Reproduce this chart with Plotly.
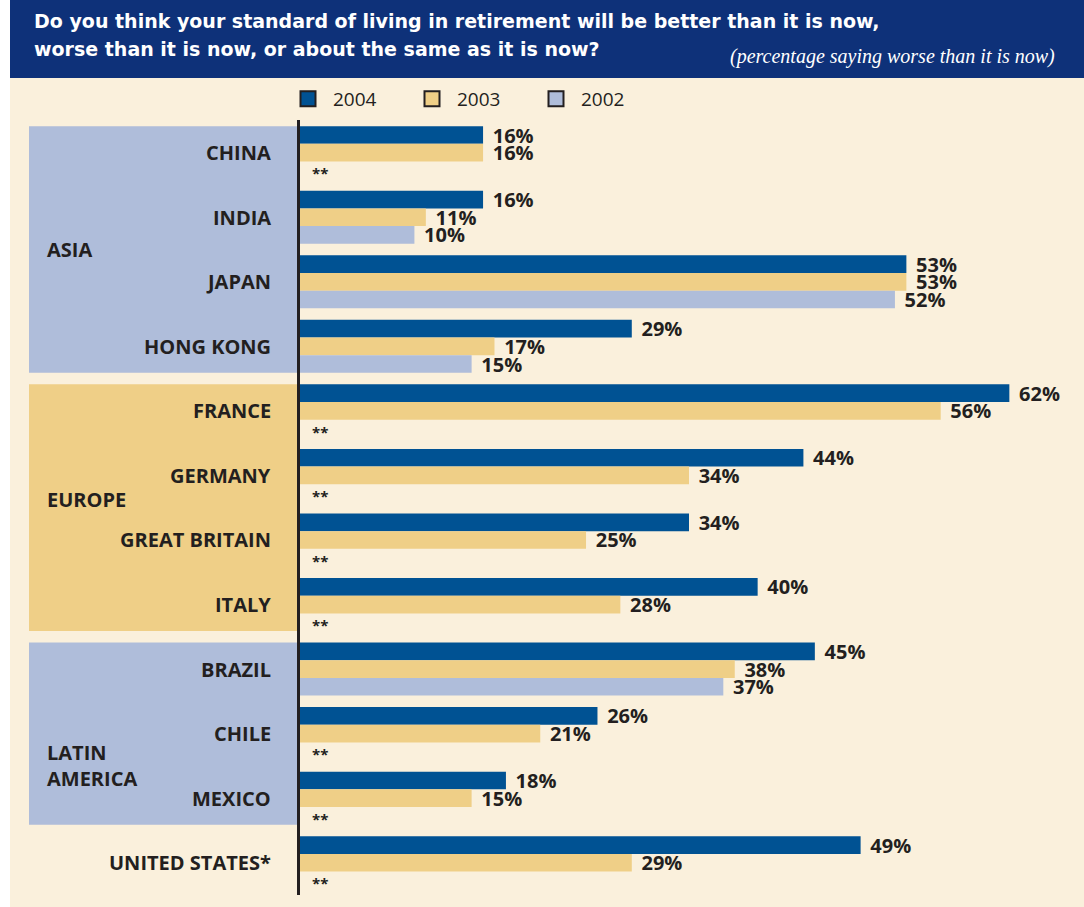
import plotly.graph_objects as go

# ---------------- data ----------------
countries = ["CHINA", "INDIA", "JAPAN", "HONG KONG", "FRANCE", "GERMANY",
             "GREAT BRITAIN", "ITALY", "BRAZIL", "CHILE", "MEXICO", "UNITED STATES*"]
v2004 = [16, 16, 53, 29, 62, 44, 34, 40, 45, 26, 18, 49]
v2003 = [16, 11, 53, 17, 56, 34, 25, 28, 38, 21, 15, 29]
v2002 = [None, 10, 52, 15, None, None, None, None, 37, None, None, None]
years = ["2004", "2003", "2002"]
region_names = ["ASIA", "EUROPE", "LATIN<br>AMERICA"]
region_first = ["CHINA", "FRANCE", "BRAZIL"]
region_last = ["HONG KONG", "ITALY", "MEXICO"]
title_line1 = "Do you think your standard of living in retirement will be better than it is now,"
title_line2 = "worse than it is now, or about the same as it is now?"
subtitle = "(percentage saying worse than it is now)"

# ---------------- style ----------------
W, H = 1084, 907
ML, MR, MT, MB = 300, 6, 120, 12
PW, PH = W - ML - MR, H - MT - MB
NAVY = "#0E3179"
CREAM = "#FAF0DC"
TXT = "#231F20"
colors = ["#005293", "#EFCF87", "#AFBDDA"]
region_fill = ["#AFBDDA", "#EFCF87", "#AFBDDA"]
region_label_y = [1.5, 5.38, 9.5]
BAR_PX = PH / len(countries) * (1 - 0.178) / 3


def px2x(p):
    return (p - ML) / PW


def px2y(p):
    return (H - MB - p) / PH


series = [v2004, v2003, v2002]
fig = go.Figure()
for name, vals, col in zip(years, series, colors):
    fig.add_trace(go.Bar(
        y=countries, x=vals, orientation="h", name=name,
        marker=dict(color=col, line=dict(width=0)),
        texttemplate="\u2004%{x}%", textposition="outside",
        constraintext="none", cliponaxis=False,
        textfont=dict(family="Open Sans", size=20, color=TXT, weight=700),
        showlegend=False, hoverinfo="skip",
    ))
# legend-only entries
for name, col in zip(years, colors):
    fig.add_trace(go.Scatter(
        x=[None], y=[None], mode="markers", name=name,
        marker=dict(symbol="square", size=15, color=col,
                    line=dict(color=TXT, width=2)),
    ))

shapes = []
# white left strip
shapes.append(dict(type="rect", xref="paper", yref="paper", x0=px2x(-5), x1=px2x(10),
                   y0=px2y(H + 5), y1=px2y(-5), fillcolor="white", line_width=0, layer="below"))
# navy title band
shapes.append(dict(type="rect", xref="paper", yref="paper", x0=px2x(10), x1=px2x(W + 5),
                   y0=px2y(78), y1=px2y(-5), fillcolor=NAVY, line_width=0, layer="below"))
# region bands
half = 0.5 - 0.178 / 2
for f, l, c in zip(region_first, region_last, region_fill):
    i0 = countries.index(f)
    i1 = countries.index(l)
    shapes.append(dict(type="rect", xref="paper", yref="y", x0=px2x(29), x1=px2x(298),
                       y0=i0 - half, y1=i1 + half, fillcolor=c, line_width=0, layer="below"))

ann = []
ann.append(dict(text=title_line1, xref="paper", yref="paper", x=px2x(32), y=px2y(21),
                xanchor="left", yanchor="middle", showarrow=False,
                font=dict(family="DejaVu Sans", size=19, color="white", weight=700)))
ann.append(dict(text=title_line2, xref="paper", yref="paper", x=px2x(32), y=px2y(49),
                xanchor="left", yanchor="middle", showarrow=False,
                font=dict(family="DejaVu Sans", size=19, color="white", weight=700)))
ann.append(dict(text=subtitle, xref="paper", yref="paper", x=px2x(1057), y=px2y(56),
                xanchor="right", yanchor="middle", showarrow=False,
                font=dict(family="Liberation Serif", size=20, color="white", style="italic")))
for c in countries:
    ann.append(dict(text=c, xref="paper", yref="y", x=0, y=c, xanchor="right",
                    yanchor="middle", xshift=-27, showarrow=False,
                    font=dict(family="Open Sans", size=20, color=TXT, weight=700)))
for name, ry in zip(region_names, region_label_y):
    ann.append(dict(text=name, xref="paper", yref="y", x=px2x(45), y=ry, xanchor="left",
                    yanchor="middle", align="left", showarrow=False,
                    font=dict(family="Open Sans", size=20, color=TXT, weight=700)))
for k, vals in enumerate(series):
    for c, v in zip(countries, vals):
        if v is None:
            ann.append(dict(text="**", xref="x", yref="y", x=0, y=c, xanchor="left",
                            yanchor="middle", xshift=10, yshift=-(k - 1) * BAR_PX - 3,
                            showarrow=False,
                            font=dict(family="Open Sans", size=15, color=TXT, weight=700)))

fig.update_layout(
    width=W, height=H,
    margin=dict(l=ML, r=MR, t=MT, b=MB),
    paper_bgcolor=CREAM, plot_bgcolor=CREAM,
    barmode="group", bargap=0.178, bargroupgap=0,
    shapes=shapes, annotations=ann,
    legend=dict(orientation="h", x=px2x(283), xanchor="left", y=px2y(99), yanchor="middle",
                bgcolor="rgba(0,0,0,0)", entrywidth=69, entrywidthmode="pixels",
                itemwidth=40,
                font=dict(family="Open Sans", size=19, color=TXT), itemsizing="trace"),
    xaxis=dict(range=[0, 68], showgrid=False, zeroline=False, showticklabels=False,
               showline=False, fixedrange=True),
    yaxis=dict(autorange="reversed", showgrid=False, zeroline=False, showticklabels=False,
               showline=True, linecolor=TXT, linewidth=2.5, ticks="", fixedrange=True),
)

fig.write_html("out.html", config={"displayModeBar": False},
               post_script="document.body.style.margin='0';document.body.style.overflow='hidden';")
